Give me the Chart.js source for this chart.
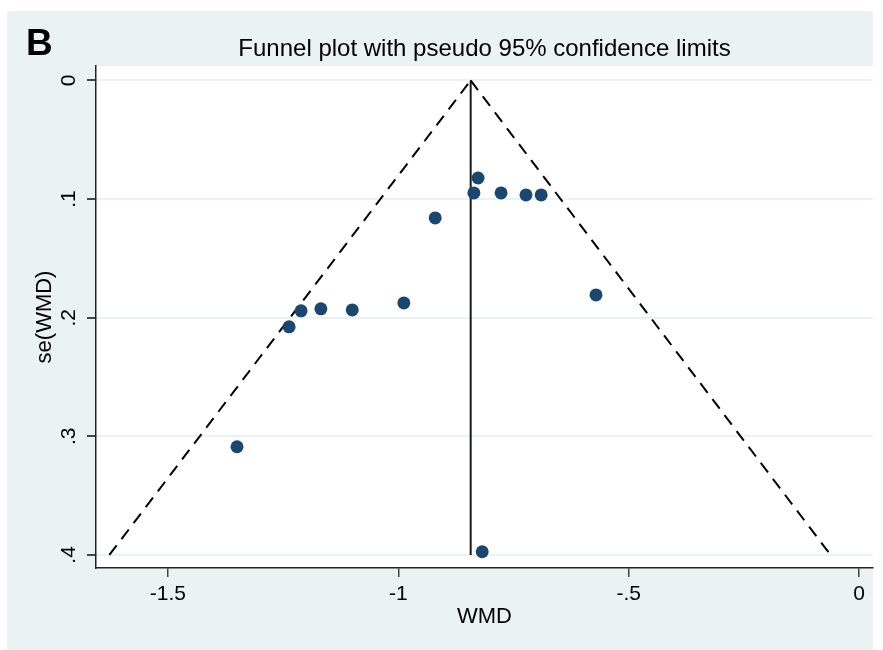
<!DOCTYPE html>
<html>
<head>
<meta charset="utf-8">
<script src="https://cdn.jsdelivr.net/npm/chart.js@4.4.0/dist/chart.umd.min.js"></script>
<style>
  html, body { margin: 0; padding: 0; background: #ffffff; }
  #wrap { width: 883px; height: 650px; }
</style>
</head>
<body>
<div id="wrap"><canvas id="c" width="883" height="650"></canvas></div>
<script>
// ---- Data ----
const studyWMD = [-0.827, -0.836, -0.777, -0.723, -0.690, -0.920, -0.571, -0.988, -1.100, -1.168, -1.211, -1.237, -1.350, -0.818];
const studySE  = [0.0822, 0.0948, 0.0948, 0.0965, 0.0965, 0.1159, 0.1808, 0.1875, 0.1934, 0.1925, 0.1942, 0.2077, 0.3088, 0.3973];
const pooledWMD = -0.843;
const funnelLeftX  = [-1.627, -0.843];
const funnelLeftY  = [0.4, 0];
const funnelRightX = [-0.843, -0.062];
const funnelRightY = [0, 0.4];
const pooledLineY  = [0, 0.4];
const xTickValues = [-1.5, -1, -0.5, 0];
const xTickLabels = ['-1.5', '-1', '-.5', '0'];
const yTickValues = [0, 0.1, 0.2, 0.3, 0.4];
const yTickLabels = ['0', '.1', '.2', '.3', '.4'];
const titleText = 'Funnel plot with pseudo 95% confidence limits';
const panelLabel = 'B';
const xTitle = 'WMD';
const yTitle = 'se(WMD)';

const FONT = "'Liberation Sans', Arial, Helvetica, sans-serif";
const BG = '#EAF2F3';

const toPts = (xs, ys) => xs.map((x, i) => ({ x: x, y: ys[i] }));

const bgPlugin = {
  id: 'bgPlugin',
  beforeDraw(chart) {
    const ctx = chart.ctx;
    const a = chart.chartArea;
    ctx.save();
    ctx.fillStyle = '#ffffff';
    ctx.fillRect(0, 0, chart.width, chart.height);
    ctx.fillStyle = BG;
    ctx.fillRect(7, 11, 866, 639);
    ctx.fillStyle = '#ffffff';
    ctx.fillRect(a.left, a.top, a.right - a.left, a.bottom - a.top);
    ctx.restore();
  },
  afterDraw(chart) {
    const ctx = chart.ctx;
    ctx.save();
    ctx.fillStyle = '#000';
    ctx.font = "bold 37px " + FONT;
    ctx.textAlign = 'left';
    ctx.textBaseline = 'alphabetic';
    ctx.fillText(panelLabel, 26, 55);
    ctx.restore();
  }
};

new Chart(document.getElementById('c'), {
  type: 'scatter',
  data: {
    datasets: [
      {
        type: 'line',
        data: toPts(funnelLeftX, funnelLeftY),
        borderColor: '#000',
        borderWidth: 2,
        borderDash: [12, 8],
        pointRadius: 0,
        fill: false,
        order: 2
      },
      {
        type: 'line',
        data: toPts(funnelRightX, funnelRightY),
        borderColor: '#000',
        borderWidth: 2,
        borderDash: [12, 8],
        pointRadius: 0,
        fill: false,
        order: 2
      },
      {
        type: 'line',
        data: toPts([pooledWMD, pooledWMD], pooledLineY),
        borderColor: '#1a1a1a',
        borderWidth: 2,
        pointRadius: 0,
        fill: false,
        order: 2
      },
      {
        type: 'scatter',
        data: toPts(studyWMD, studySE),
        backgroundColor: '#1a476f',
        borderColor: '#1a476f',
        borderWidth: 0,
        pointRadius: 6.5,
        order: 1
      }
    ]
  },
  options: {
    responsive: false,
    animation: false,
    devicePixelRatio: 1,
    layout: { padding: { top: 0, right: 10, bottom: 0, left: 0 } },
    plugins: {
      legend: { display: false },
      tooltip: { enabled: false },
      title: {
        display: true,
        text: titleText,
        fullSize: false,
        color: '#000',
        font: { family: FONT, size: 24, weight: 'normal', lineHeight: 1 },
        padding: { top: 37, bottom: 5 }
      }
    },
    scales: {
      x: {
        type: 'linear',
        min: -1.656,
        max: 0.030,
        afterBuildTicks(scale) { scale.ticks = xTickValues.map(v => ({ value: v })); },
        afterFit(scale) { scale.height = 82; },
        border: { display: true, color: '#222', width: 1.5 },
        grid: { drawOnChartArea: false, drawTicks: true, tickLength: 9, tickColor: '#444', lineWidth: 1.5 },
        ticks: {
          color: '#000',
          font: { family: FONT, size: 21 },
          padding: 5,
          maxRotation: 0,
          minRotation: 0,
          callback: (v) => { const i = xTickValues.indexOf(v); return i >= 0 ? xTickLabels[i] : ''; }
        },
        title: {
          display: true,
          text: xTitle,
          color: '#000',
          font: { family: FONT, size: 22 },
          padding: { top: 0, bottom: 20 }
        }
      },
      y: {
        type: 'linear',
        reverse: true,
        min: -0.0122,
        max: 0.411,
        afterBuildTicks(scale) { scale.ticks = yTickValues.map(v => ({ value: v })); },
        afterFit(scale) { scale.width = 96; },
        border: { display: true, color: '#222', width: 1.5 },
        grid: { drawOnChartArea: true, color: BG, lineWidth: 2, drawTicks: true, tickLength: 9, tickColor: '#444' },
        ticks: {
          color: '#000',
          font: { family: FONT, size: 21 },
          padding: 9,
          minRotation: 90,
          maxRotation: 90,
          crossAlign: 'center',
          callback: (v) => { const i = yTickValues.indexOf(v); return i >= 0 ? yTickLabels[i] : ''; }
        },
        title: {
          display: true,
          text: yTitle,
          color: '#000',
          font: { family: FONT, size: 22 },
          padding: { top: 32, bottom: 0 }
        }
      }
    }
  },
  plugins: [bgPlugin]
});
</script>
</body>
</html>
